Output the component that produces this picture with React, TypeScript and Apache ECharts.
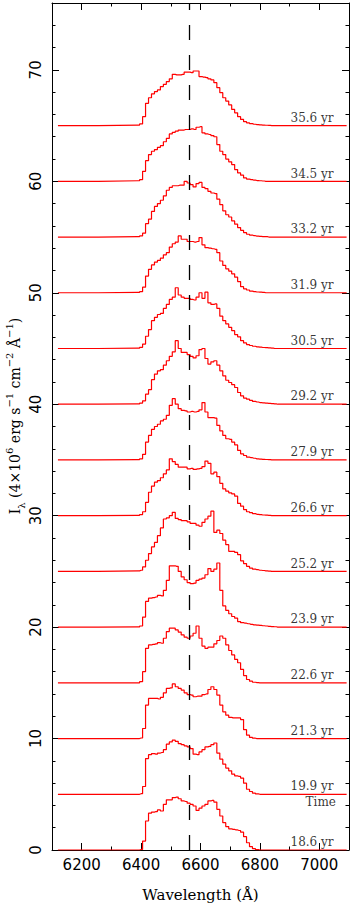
import React, { useEffect, useRef } from 'react';
import * as echarts from 'echarts';

// Wavelength grid (Å): continuum start, 6390..6860 in 10 Å bins, continuum end
const WAVELENGTH = [
  6120,
  6390, 6400, 6410, 6420, 6430, 6440, 6450, 6460, 6470, 6480,
  6490, 6500, 6510, 6520, 6530, 6540, 6550, 6560, 6570, 6580,
  6590, 6600, 6610, 6620, 6630, 6640, 6650, 6660, 6670, 6680,
  6690, 6700, 6710, 6720, 6730, 6740, 6750, 6760, 6770, 6780,
  6790, 6800, 6810, 6820, 6830, 6840, 6850, 6860,
  7092,
];

// Epoch labels and vertical offsets
const EPOCHS = ['18.6 yr', '19.9 yr', '21.3 yr', '22.6 yr', '23.9 yr', '25.2 yr', '26.6 yr',
  '27.9 yr', '29.2 yr', '30.5 yr', '31.9 yr', '33.2 yr', '34.5 yr', '35.6 yr'];
const OFFSETS = [0, 5, 10, 15, 20, 25, 30, 35, 40, 45, 50, 55, 60, 65];

// Profiles (height above each offset), for 6390..6860 Å
const P18_6 = [0, 0.05, 0.8, 2.6, 3.3, 3.4, 3.45, 3.6, 3.5, 4.1, 4.5, 4.5, 4.7, 4.75, 4.6, 4.4, 4.35, 4.2, 4.1, 3.95, 3.55, 3.75, 3.95, 4.1, 4.4, 4.45, 4.3, 3.65, 3.05, 2.45, 2.1, 1.9, 1.85, 1.8, 1.75, 1.6, 1.2, 0.65, 0.3, 0.12, 0.03, 0, 0, 0, 0, 0, 0, 0];
const P19_9 = [0, 0.05, 0.7, 3.2, 3.55, 3.65, 3.6, 3.7, 3.75, 4.0, 4.5, 4.7, 4.85, 4.75, 4.55, 4.45, 4.35, 4.25, 4.1, 3.6, 3.55, 3.8, 4.0, 4.25, 4.3, 4.45, 4.6, 3.7, 3.15, 2.7, 2.35, 2.1, 1.8, 1.65, 1.6, 1.45, 1.0, 0.45, 0.25, 0.1, 0.03, 0, 0, 0, 0, 0, 0, 0];
const P21_3 = [0, 0.05, 0.9, 3.0, 3.6, 3.6, 3.6, 3.55, 3.7, 4.1, 4.5, 4.55, 4.9, 4.65, 4.5, 4.35, 4.1, 3.95, 3.9, 3.75, 3.8, 3.8, 3.95, 4.0, 4.4, 4.65, 4.4, 3.9, 3.0, 2.4, 2.1, 1.9, 1.85, 1.85, 1.85, 1.7, 0.8, 0.3, 0.1, 0.03, 0, 0, 0, 0, 0, 0, 0, 0];
const P22_6 = [0, 0.1, 1.0, 3.1, 3.4, 3.45, 3.5, 3.6, 3.55, 4.0, 4.6, 4.9, 4.9, 4.75, 4.55, 4.3, 4.1, 4.0, 4.2, 4.45, 5.1, 4.0, 3.3, 3.1, 3.2, 3.2, 3.5, 3.8, 4.2, 4.0, 3.4, 2.9, 2.5, 2.1, 1.8, 1.2, 0.65, 0.3, 0.15, 0.05, 0.02, 0, 0, 0, 0, 0, 0, 0];
const P23_9 = [0.02, 0.1, 0.9, 2.3, 2.6, 2.65, 2.7, 2.85, 2.8, 3.3, 4.2, 5.5, 5.5, 5.45, 5.0, 4.5, 4.25, 4.0, 3.9, 3.95, 4.2, 4.3, 4.4, 4.7, 5.25, 5.0, 5.2, 5.75, 3.3, 1.9, 1.5, 1.2, 0.95, 0.8, 0.5, 0.4, 0.35, 0.3, 0.25, 0.2, 0.18, 0.15, 0.12, 0.1, 0.07, 0.05, 0.03, 0];
const P25_2 = [0.05, 0.1, 0.4, 1.0, 1.6, 2.2, 2.6, 3.2, 3.9, 4.7, 4.8, 5.0, 5.3, 4.75, 4.65, 4.55, 4.55, 4.45, 4.3, 4.3, 4.15, 4.05, 4.4, 4.7, 4.95, 5.4, 3.5, 3.7, 3.4, 2.8, 2.4, 1.8, 1.8, 1.7, 1.5, 0.95, 0.7, 0.45, 0.3, 0.2, 0.15, 0.1, 0.08, 0.05, 0.03, 0, 0, 0];
const P26_6 = [0.03, 0.1, 0.35, 1.2, 2.1, 2.65, 3.0, 3.15, 3.4, 3.75, 4.1, 5.1, 4.85, 4.6, 4.35, 4.35, 4.35, 4.2, 4.25, 4.15, 4.2, 4.25, 4.4, 4.9, 4.7, 3.75, 3.9, 3.5, 2.9, 2.4, 2.2, 2.05, 1.95, 1.75, 1.1, 0.85, 0.55, 0.35, 0.27, 0.18, 0.12, 0.09, 0.06, 0.04, 0.03, 0, 0, 0];
const P27_9 = [0.03, 0.1, 0.5, 1.6, 2.2, 2.75, 3.0, 3.2, 3.5, 3.65, 4.0, 4.9, 5.5, 5.0, 4.6, 4.45, 4.4, 4.3, 4.35, 4.3, 4.35, 4.5, 5.15, 4.3, 3.8, 3.8, 3.75, 3.1, 2.6, 2.2, 1.9, 1.85, 1.6, 1.35, 0.85, 0.55, 0.4, 0.25, 0.2, 0.15, 0.1, 0.08, 0.05, 0.04, 0.03, 0, 0, 0];
const P29_2 = [0.03, 0.1, 0.3, 0.9, 1.3, 2.2, 2.7, 3.0, 3.1, 3.5, 3.9, 4.3, 4.7, 5.7, 5.0, 4.65, 4.65, 4.45, 4.3, 4.15, 4.35, 4.9, 5.0, 4.1, 3.6, 3.8, 3.9, 3.5, 3.0, 2.55, 2.15, 1.95, 1.75, 1.5, 1.05, 0.75, 0.55, 0.45, 0.35, 0.25, 0.2, 0.15, 0.12, 0.09, 0.07, 0.05, 0.03, 0];
const P30_5 = [0.03, 0.1, 0.4, 1.1, 1.7, 2.5, 2.8, 3.05, 3.15, 3.6, 3.95, 4.4, 4.6, 5.45, 4.8, 4.6, 4.5, 4.5, 4.4, 4.35, 4.6, 5.0, 4.5, 5.05, 4.1, 3.95, 4.0, 3.6, 2.9, 2.5, 2.2, 1.9, 1.6, 1.25, 1.05, 0.7, 0.5, 0.35, 0.27, 0.2, 0.15, 0.12, 0.09, 0.07, 0.05, 0.03, 0, 0];
const P31_9 = [0.03, 0.1, 0.5, 1.5, 2.1, 2.5, 2.75, 2.9, 3.1, 3.4, 3.6, 4.1, 4.4, 4.55, 5.1, 4.8, 4.8, 4.6, 4.6, 4.55, 4.6, 4.95, 4.3, 4.05, 4.0, 3.95, 3.9, 3.6, 2.85, 2.45, 2.15, 1.95, 1.7, 1.4, 1.0, 0.55, 0.35, 0.25, 0.15, 0.1, 0.07, 0.05, 0.03, 0, 0, 0, 0, 0];
const P33_2 = [0.03, 0.1, 0.35, 1.2, 1.6, 2.3, 2.75, 3.0, 3.3, 3.7, 4.2, 4.45, 4.6, 4.6, 4.65, 4.65, 5.0, 4.85, 4.7, 4.5, 4.8, 4.9, 4.45, 4.35, 4.1, 3.95, 3.9, 3.4, 2.9, 2.35, 2.0, 1.8, 1.45, 1.15, 0.85, 0.6, 0.4, 0.25, 0.18, 0.12, 0.08, 0.06, 0.04, 0.03, 0, 0, 0, 0];
const P34_5 = [0.05, 0.15, 0.9, 1.85, 2.4, 2.7, 2.85, 3.05, 3.2, 3.55, 3.85, 4.25, 4.4, 4.5, 4.6, 4.6, 4.65, 4.65, 4.7, 4.65, 4.85, 4.9, 4.35, 4.25, 4.2, 4.1, 4.0, 3.3, 2.7, 2.4, 2.0, 1.75, 1.5, 1.05, 0.75, 0.55, 0.3, 0.2, 0.15, 0.1, 0.07, 0.05, 0.03, 0, 0, 0, 0, 0];
const P35_6 = [0.05, 0.15, 0.8, 2.0, 2.5, 2.85, 3.05, 3.2, 3.5, 3.7, 3.95, 4.2, 4.6, 4.55, 4.55, 4.6, 4.8, 4.8, 4.75, 4.9, 4.9, 4.4, 4.35, 4.3, 4.2, 4.1, 3.85, 3.4, 2.95, 2.5, 2.2, 1.85, 1.45, 1.15, 0.8, 0.55, 0.35, 0.25, 0.18, 0.12, 0.09, 0.06, 0.04, 0.03, 0.02, 0, 0, 0];

const PROFILES = [P18_6, P19_9, P21_3, P22_6, P23_9, P25_2, P26_6, P27_9, P29_2, P30_5, P31_9, P33_2, P34_5, P35_6];

// Axis ticks / labels
const X_MAJOR = [6200, 6400, 6600, 6800, 7000];
const Y_MAJOR = [0, 10, 20, 30, 40, 50, 60, 70];
const H_ALPHA = 6563;
const LABEL_X = 7048;
const LABEL_DY = 0.7;
const TIME_LABEL = { x: 7056, y: 4.27, text: 'Time' };

const SANS = 'DejaVu Sans';
const SERIF = 'DejaVu Serif';

export default function App() {
  const ref = useRef<HTMLDivElement>(null);

  useEffect(() => {
    document.body.style.margin = '0';
    const chart = echarts.init(ref.current!, null, { renderer: 'svg' });

    const spectra = PROFILES.map((prof, i) => {
      const base = OFFSETS[i];
      const vals = [0, ...prof, 0];
      return {
        type: 'line',
        xAxisIndex: 0,
        yAxisIndex: 0,
        step: 'middle',
        symbol: 'none',
        silent: true,
        lineStyle: { color: '#ff0000', width: 1.2 },
        data: WAVELENGTH.map((w, j) => [w, base + vals[j]]),
        z: 2,
      };
    });

    const labelData = EPOCHS.map((t, i) => [LABEL_X, OFFSETS[i] + LABEL_DY, t]);
    labelData.push([TIME_LABEL.x, TIME_LABEL.y, TIME_LABEL.text]);

    const lineBlack = { color: '#000', width: 1 };

    const option: any = {
      animation: false,
      backgroundColor: '#fff',
      grid: { left: 52, right: 4, top: 1, bottom: 56, containLabel: false },
      xAxis: [
        {
          type: 'value', min: 6100, max: 7100, interval: 100, position: 'bottom',
          axisLine: { show: true, onZero: false, lineStyle: lineBlack },
          axisTick: { show: true, inside: true, length: 3.5, lineStyle: lineBlack },
          axisLabel: {
            color: '#000', fontFamily: SANS, fontSize: 15, margin: 7,
            formatter: (v: number) => (v % 200 === 0 ? String(v) : ''),
          },
          splitLine: { show: false },
          name: 'Wavelength (Å)', nameLocation: 'middle', nameGap: 37,
          nameTextStyle: { color: '#000', fontFamily: SERIF, fontSize: 15 },
        },
        {
          type: 'value', min: 6100, max: 7100, position: 'bottom',
          axisLine: { show: false, onZero: false },
          axisTick: { show: true, inside: true, length: 7, customValues: X_MAJOR, lineStyle: lineBlack },
          axisLabel: { show: false }, splitLine: { show: false },
        },
        {
          type: 'value', min: 6100, max: 7100, interval: 100, position: 'top',
          axisLine: { show: true, onZero: false, lineStyle: lineBlack },
          axisTick: { show: true, inside: true, length: 3.5, lineStyle: lineBlack },
          axisLabel: { show: false }, splitLine: { show: false },
        },
        {
          type: 'value', min: 6100, max: 7100, position: 'top',
          axisLine: { show: false, onZero: false },
          axisTick: { show: true, inside: true, length: 7, customValues: X_MAJOR, lineStyle: lineBlack },
          axisLabel: { show: false }, splitLine: { show: false },
        },
      ],
      yAxis: [
        {
          type: 'value', min: 0, max: 76, interval: 2, position: 'left',
          axisLine: { show: true, onZero: false, lineStyle: lineBlack },
          axisTick: { show: true, inside: true, length: 3.5, lineStyle: lineBlack },
          axisLabel: {
            color: '#000', fontFamily: SANS, fontSize: 15, margin: 9, rotate: 90,
            formatter: (v: number) => (v % 10 === 0 && v <= 70 ? String(v) : ''),
          },
          splitLine: { show: false },
        },
        {
          type: 'value', min: 0, max: 76, position: 'left',
          axisLine: { show: false, onZero: false },
          axisTick: { show: true, inside: true, length: 7, customValues: Y_MAJOR, lineStyle: lineBlack },
          axisLabel: { show: false }, splitLine: { show: false },
        },
        {
          type: 'value', min: 0, max: 76, interval: 2, position: 'right',
          axisLine: { show: true, onZero: false, lineStyle: lineBlack },
          axisTick: { show: true, inside: true, length: 3.5, lineStyle: lineBlack },
          axisLabel: { show: false }, splitLine: { show: false },
        },
        {
          type: 'value', min: 0, max: 76, position: 'right',
          axisLine: { show: false, onZero: false },
          axisTick: { show: true, inside: true, length: 7, customValues: Y_MAJOR, lineStyle: lineBlack },
          axisLabel: { show: false }, splitLine: { show: false },
        },
      ],
      series: [
        ...spectra,
        {
          type: 'line',
          xAxisIndex: 0, yAxisIndex: 0,
          symbol: 'none', silent: true,
          lineStyle: { color: '#000', width: 1.3, type: [15, 15] },
          data: [[H_ALPHA, 0], [H_ALPHA, 76]],
          z: 3,
        },
        {
          type: 'scatter',
          xAxisIndex: 0, yAxisIndex: 0,
          symbolSize: 0, silent: true,
          data: labelData,
          label: {
            show: true, position: 'left', distance: 0,
            color: '#000', fontFamily: SERIF, fontSize: 12,
            formatter: (p: any) => p.data[2],
          },
          z: 4,
        },
      ],
      graphic: [
        {
          type: 'text',
          x: 15, y: 416, rotation: Math.PI / 2,
          style: {
            text: '{m|I}{sub|λ}{m| (4×10}{sup|6}{m| erg s}{sup|−1}{m| cm}{sup|−2}{m| Å}{sup|−1}{m|)}',
            align: 'center', verticalAlign: 'middle',
            fill: '#000',
            rich: {
              m: { fontFamily: SERIF, fontSize: 14, lineHeight: 22, verticalAlign: 'middle', fill: '#000' },
              sup: { fontFamily: SERIF, fontSize: 10, lineHeight: 22, verticalAlign: 'top', fill: '#000' },
              sub: { fontFamily: SERIF, fontSize: 10, lineHeight: 22, verticalAlign: 'bottom', fill: '#000' },
            },
          },
        },
      ],
    };

    chart.setOption(option);
    return () => chart.dispose();
  }, []);

  return <div ref={ref} style={{ width: 353, height: 907 }} />;
}
